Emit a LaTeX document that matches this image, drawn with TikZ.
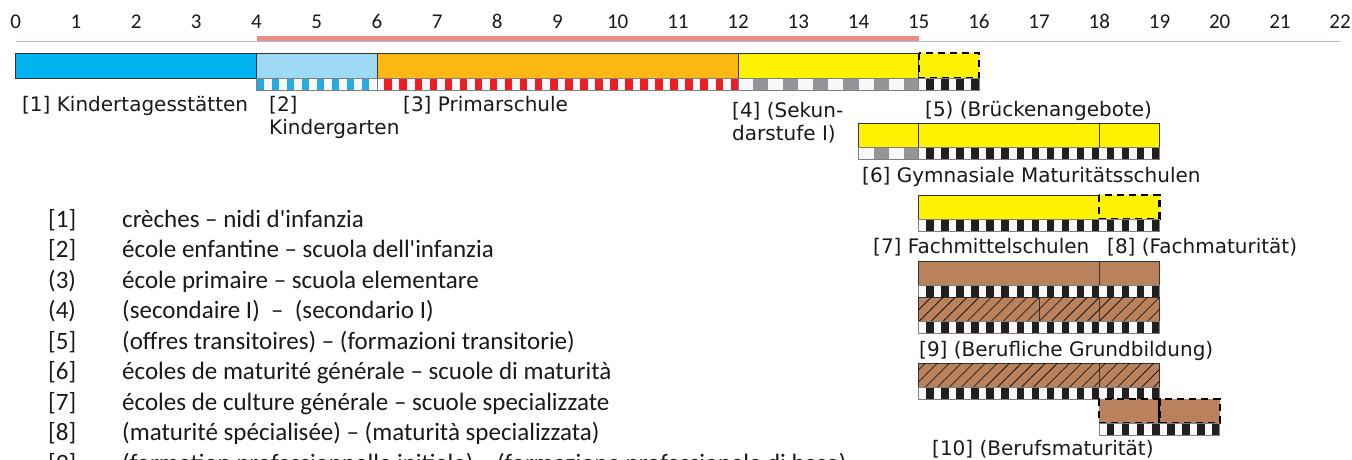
\documentclass[tikz,border=0pt]{standalone}
\usepackage{fontspec}
\setmainfont[Ligatures=TeXOff]{Carlito}
\newfontfamily\labfont{DejaVu Sans}
\usetikzlibrary{patterns.meta}
\definecolor{cyanA}{HTML}{00B4EF}
\definecolor{lblue}{HTML}{9ED9F6}
\definecolor{sblue}{HTML}{27A9E1}
\definecolor{orangeA}{HTML}{FDB813}
\definecolor{sred}{HTML}{EE1C25}
\definecolor{yellowA}{HTML}{FFF200}
\definecolor{sgray}{HTML}{939598}
\definecolor{sblack}{HTML}{231F20}
\definecolor{cellwhite}{HTML}{F8F8F8}
\definecolor{brownA}{HTML}{B9825C}
\definecolor{salmon}{HTML}{F28B82}
\definecolor{axisblue}{HTML}{9DC3E6}
\definecolor{txt}{HTML}{1A1A1A}
\newcommand{\stripeRow}[6]{%
  \fill[cellwhite] (#1,#3) rectangle (#2,#3+12);
  \begin{scope}
    \clip (#1,#3) rectangle (#2,#3+12);
    \pgfmathtruncatemacro{\stN}{(#2-#1)/(2*#5)}
    \foreach \k in {0,...,\stN} {\fill[#4] ({#1+(2*\k+#6)*#5},#3) rectangle ++(#5,12);}
  \end{scope}
  \draw[stripeline] (#1,#3) rectangle (#2,#3+12);
}
\tikzset{
  bar/.style={draw=black!80, line width=0.8pt},
  stripeline/.style={draw=black!50, line width=0.8pt},
  dashbox/.style={draw=black, line width=2.2pt, dash pattern=on 7pt off 5pt},
  hatchbar/.style={bar, fill=brownA, postaction={pattern={Lines[angle=45,distance=8.5pt,line width=0.6pt]}, pattern color=black}},
  axnum/.style={anchor=base, inner sep=0pt, font=\fontsize{21}{25}\selectfont, text=txt},
  lab/.style={anchor=base west, inner sep=0pt, font=\labfont\fontsize{20}{23}\selectfont, text=txt},
  leg/.style={anchor=base west, inner sep=0pt, font=\fontsize{25}{30}\selectfont, text=txt},
}
\begin{document}
\begin{tikzpicture}[x=1pt,y=-1pt]
\useasboundingbox (0,0) rectangle (1352,459);
\clip (0,0) rectangle (1352,459);
\fill[white] (0,0) rectangle (1352,459);
% axis
\foreach \k in {0,...,22} {\node[axnum] (n\k) at ({15.7+60.2*\k},28) {\k};}
\fill[salmon] (256.5,36) rectangle (918.7,41);
\draw[axisblue, line width=1.5pt] (15.7,41.5) -- (1340,41.5);
% top row
\filldraw[bar, fill=cyanA] (15.7,53) rectangle (256.5,78);
\filldraw[bar, fill=lblue] (256.5,53) rectangle (376.9,78);
\filldraw[bar, fill=orangeA] (376.9,53) rectangle (738.1,78);
\filldraw[bar, fill=yellowA] (738.1,53) rectangle (918.7,78);
\filldraw[fill=yellowA, dashbox] (918.7,53) rectangle (978.9,78);
\stripeRow{256.5}{376.9}{78}{sblue}{7.525}{0}
\stripeRow{376.9}{738.1}{78}{sred}{7.525}{1}
\stripeRow{738.1}{918.7}{78}{sgray}{15.05}{1}
\stripeRow{918.7}{978.9}{78}{sblack}{7.525}{1}
\node[lab] (l1) at (22,111) {[1] Kindertagesstätten};
\node[lab] (l2a) at (269,111) {[2]};
\node[lab] (l2b) at (269,134) {Kindergarten};
\node[lab] (l3) at (403,111) {[3] Primarschule};
\node[lab] (l4a) at (732,117) {[4] (Sekun-};
\node[lab] (l4b) at (732,140) {darstufe I)};
\node[lab] (l5) at (925,116) {[5) (Brückenangebote)};
% row 6
\filldraw[bar, fill=yellowA] (858.5,123) rectangle (918.7,147);
\filldraw[bar, fill=yellowA] (918.7,123) rectangle (1099.3,147);
\filldraw[bar, fill=yellowA] (1099.3,123) rectangle (1159.5,147);
\stripeRow{858.5}{918.7}{147}{sgray}{15.05}{1}
\stripeRow{918.7}{1159.5}{147}{sblack}{7.525}{1}
\node[lab] (l6) at (862,182) {[6] Gymnasiale Maturitätsschulen};
% row 7
\filldraw[bar, fill=yellowA] (918.7,195) rectangle (1099.3,219);
\filldraw[fill=yellowA, dashbox] (1099.3,195) rectangle (1159.5,219);
\stripeRow{918.7}{1159.5}{219}{sblack}{7.525}{1}
\node[lab] (l7) at (873,253) {[7] Fachmittelschulen};
\node[lab] (l8) at (1107,253) {[8] (Fachmaturität)};
% row 9
\filldraw[bar, fill=brownA] (918.7,261) rectangle (1099.3,285);
\filldraw[bar, fill=brownA] (1099.3,261) rectangle (1159.5,285);
\stripeRow{918.7}{1159.5}{285}{sblack}{7.525}{1}
\filldraw[hatchbar] (918.7,297) rectangle (1039.1,321);
\filldraw[hatchbar] (1039.1,297) rectangle (1099.3,321);
\filldraw[hatchbar] (1099.3,297) rectangle (1159.5,321);
\stripeRow{918.7}{1159.5}{321}{sblack}{7.525}{1}
\node[lab] (l9) at (919,356) {[9] (Berufliche Grundbildung)};
% row 10
\filldraw[hatchbar] (918.7,363) rectangle (1099.3,387);
\filldraw[hatchbar] (1099.3,363) rectangle (1159.5,387);
\stripeRow{918.7}{1159.5}{387}{sblack}{7.525}{1}
\filldraw[fill=brownA, dashbox] (1099.3,399) rectangle (1159.5,423);
\filldraw[fill=brownA, dashbox] (1159.5,399) rectangle (1219.7,423);
\stripeRow{1099.3}{1219.7}{423}{sblack}{7.525}{1}
\node[lab] (l10) at (932,455) {[10] (Berufsmaturität)};
% legend
\node[leg] (k1) at (48,227) {[1]};
\node[leg] (t1) at (122,227) {crèches – nidi d'infanzia};
\node[leg] (k2) at (48,257.5) {[2]};
\node[leg] (t2) at (122,257.5) {école enfantine – scuola dell'infanzia};
\node[leg] (k3) at (48,288) {(3)};
\node[leg] (t3) at (122,288) {école primaire – scuola elementare};
\node[leg] (k4) at (48,318.5) {(4)};
\node[leg] (t4) at (122,318.5) {(secondaire I)\ \ –\ \ (secondario I)};
\node[leg] (k5) at (48,349) {[5]};
\node[leg] (t5) at (122,349) {(offres transitoires) – (formazioni transitorie)};
\node[leg] (k6) at (48,379.5) {[6]};
\node[leg] (t6) at (122,379.5) {écoles de maturité générale – scuole di maturità};
\node[leg] (k7) at (48,410) {[7]};
\node[leg] (t7) at (122,410) {écoles de culture générale – scuole specializzate};
\node[leg] (k8) at (48,440.5) {[8]};
\node[leg] (t8) at (122,440.5) {(maturité spécialisée) – (maturità specializzata)};
\node[leg] (k9) at (48,471) {[9]};
\node[leg] (t9) at (122,471) {(formation professionnelle initiale) – (formazione professionale di base)};
\end{tikzpicture}
\end{document}
